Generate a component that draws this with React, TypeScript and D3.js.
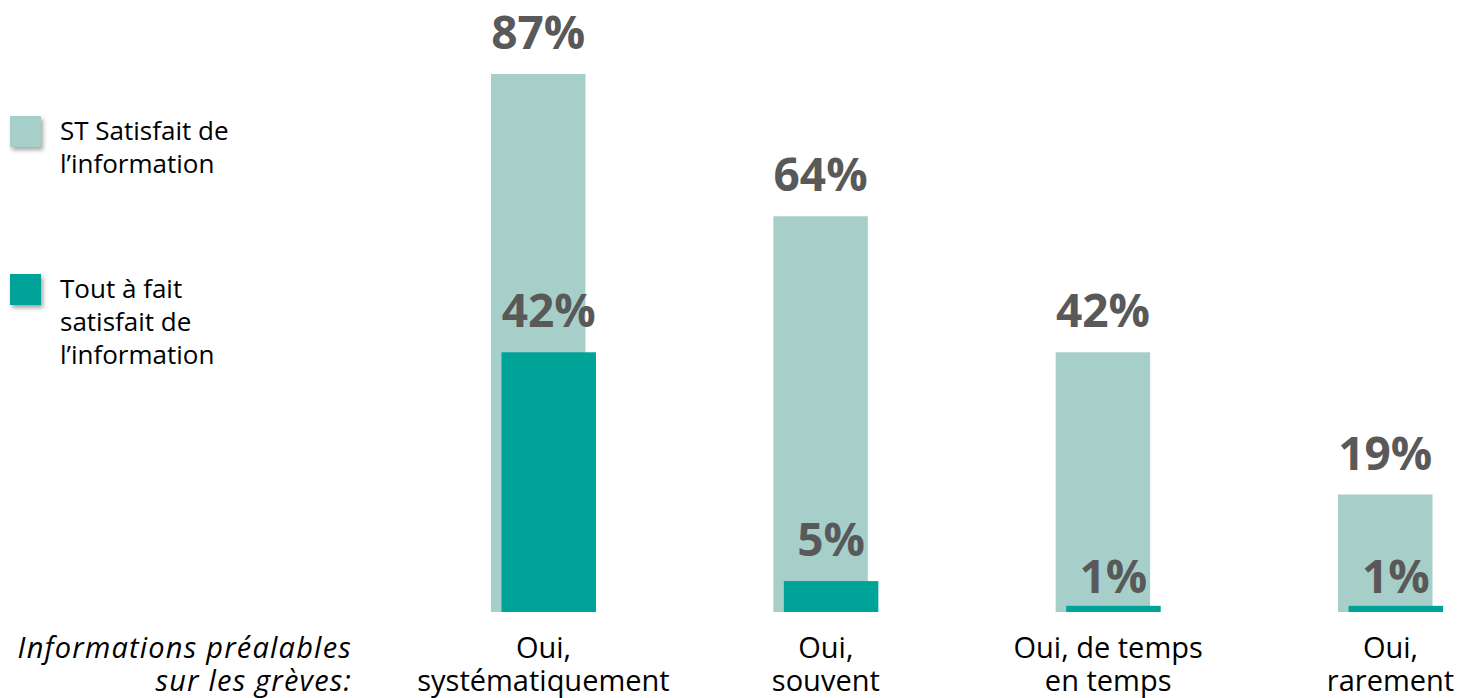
import React from "react";
import * as d3 from "d3";

const categories: string[][] = [
  ["Oui,", "systématiquement"],
  ["Oui,", "souvent"],
  ["Oui, de temps", "en temps"],
  ["Oui,", "rarement"],
];
const satisfied: number[] = [87, 64, 42, 19];
const verySatisfied: number[] = [42, 5, 1, 1];
const seriesNames: string[][] = [
  ["ST Satisfait de", "l’information"],
  ["Tout à fait", "satisfait de", "l’information"],
];
const axisTitle: string[] = ["Informations préalables", "sur les grèves:"];

const W = 1457;
const H = 698;
const LIGHT = "#A7CFCA";
const DARK = "#00A398";
const LABEL = "#595959";
const FONT = "'Open Sans', 'Noto Sans', sans-serif";

export default function App() {
  const x = d3
    .scaleBand<number>()
    .domain(d3.range(categories.length))
    .range([402.3, 1531.7])
    .paddingInner(0.628)
    .paddingOuter(0.314);
  const y = d3.scaleLinear().domain([0, 87]).range([612, 74]);
  const bw = x.bandwidth();
  const barW = 94.5;
  const offset = bw - barW;

  const labelY = (v: number) => (v < 3 ? y(0) - 19 : y(v) - 25);

  return (
    <svg width={W} height={H} style={{ position: "absolute", left: 0, top: 0, display: "block" }}>
      <defs>
        <filter id="shadow" x="-30%" y="-30%" width="170%" height="170%">
          <feDropShadow dx="2" dy="3" stdDeviation="2" floodColor="#000" floodOpacity="0.35" />
        </filter>
      </defs>
      <rect width={W} height={H} fill="#fff" />
      {categories.map((c, i) => {
        const x0 = x(i)!;
        const cx = x0 + bw / 2;
        return (
          <g key={i}>
            <rect x={x0} y={y(satisfied[i])} width={barW} height={y(0) - y(satisfied[i])} fill={LIGHT} />
            <rect
              x={x0 + offset}
              y={y(verySatisfied[i])}
              width={barW}
              height={y(0) - y(verySatisfied[i])}
              fill={DARK}
            />
            <text
              x={x0 + barW / 2}
              y={labelY(satisfied[i])}
              textAnchor="middle"
              fontFamily={FONT}
              fontWeight="bold"
              fontSize={46}
              fill={LABEL}
            >
              {satisfied[i]}%
            </text>
            <text
              x={x0 + offset + barW / 2}
              y={labelY(verySatisfied[i])}
              textAnchor="middle"
              fontFamily={FONT}
              fontWeight="bold"
              fontSize={46}
              fill={LABEL}
            >
              {verySatisfied[i]}%
            </text>
            <text textAnchor="middle" fontFamily={FONT} fontSize={29} fill="#000">
              {c.map((line, k) => (
                <tspan key={k} x={cx} y={658 + k * 33}>
                  {line}
                </tspan>
              ))}
            </text>
          </g>
        );
      })}
      <text textAnchor="end" fontFamily={FONT} fontStyle="italic" fontSize={29} letterSpacing={1.2} fill="#000">
        {axisTitle.map((line, k) => (
          <tspan key={k} x={352} y={658 + k * 33}>
            {line}
          </tspan>
        ))}
      </text>
      {seriesNames.map((lines, s) => {
        const top = s === 0 ? 116 : 274;
        return (
          <g key={s}>
            <rect x={10} y={top} width={31} height={31} fill={s === 0 ? LIGHT : DARK} filter="url(#shadow)" />
            <text fontFamily={FONT} fontSize={26} fill="#000">
              {lines.map((line, k) => (
                <tspan key={k} x={60} y={top + 24 + k * 33}>
                  {line}
                </tspan>
              ))}
            </text>
          </g>
        );
      })}
    </svg>
  );
}
